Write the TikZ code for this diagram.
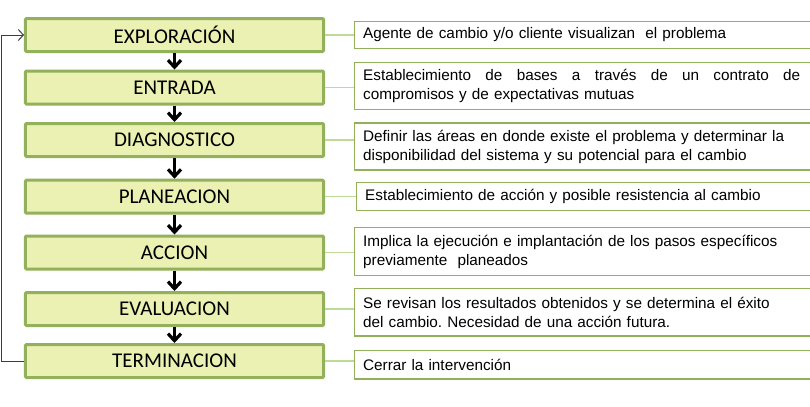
\documentclass[tikz,border=0pt]{standalone}
\usepackage{fontspec}
\setmainfont{Liberation Sans}
\newfontfamily\stepfont{Carlito}
\usetikzlibrary{arrows.meta}
\frenchspacing
\definecolor{stepfill}{RGB}{235,241,178}
\definecolor{stepborder}{RGB}{147,176,90}
\definecolor{linkgreen}{RGB}{188,220,150}
\definecolor{loopgray}{RGB}{60,60,60}
\tikzset{
  stepbox/.style={draw=stepborder, fill=stepfill, line width=3bp, rounded corners=1bp,
    minimum width=298bp, minimum height=33bp, inner sep=0pt,
    font=\stepfont\fontsize{21bp}{24bp}\selectfont},
  descbox/.style={draw=stepborder, line width=1.3bp, anchor=west, align=left,
    text width=440bp, inner xsep=9bp, inner ysep=0pt,
    font=\fontsize{15.3bp}{19bp}\selectfont},
  downarrow/.style={line width=3.2bp, black, -{Straight Barb[length=7bp,width=13bp,line width=3.2bp]}},
  link/.style={draw=linkgreen, line width=1.2bp},
  loop/.style={draw=loopgray, line width=1bp, -{Straight Barb[length=5bp,width=11bp]}}
}
\begin{document}
\begin{tikzpicture}[x=1bp,y=-1bp]
\useasboundingbox (0,0) rectangle (810,406);
\clip (0,0) rectangle (810,406);
\fill[white] (0,0) rectangle (810,406);
% left steps
\node[stepbox] (L1) at (174.5,35) {EXPLORACIÓN};
\node[stepbox] (L2) at (174.5,87.5) {ENTRADA};
\node[stepbox] (L3) at (174.5,140) {DIAGNOSTICO};
\node[stepbox] (L4) at (174.5,196.7) {PLANEACION};
\node[stepbox] (L5) at (174.5,252.5) {ACCION};
\node[stepbox] (L6) at (174.5,309) {EVALUACION};
\node[stepbox] (L7) at (174.5,361) {TERMINACION};
% right descriptions
\node[descbox, minimum height=27.5bp] (R1) at (353.5,35) {Agente de cambio y/o cliente visualizan\ \ el problema};
\node[descbox, minimum height=47.5bp] (R2) at (353.5,86) {\makebox[437bp][l]{Establecimiento\hfill de\hfill bases\hfill a\hfill través\hfill de\hfill un\hfill contrato\hfill de}\\compromisos y de expectativas mutuas};
\node[descbox, minimum height=47bp] (R3) at (353.5,146.5) {Definir las áreas en donde existe el problema y determinar la\\disponibilidad del sistema y su potencial para el cambio};
\node[descbox, minimum height=28bp] (R4) at (355.5,196.7) {Establecimiento de acción y posible resistencia al cambio};
\node[descbox, minimum height=48bp] (R5) at (353.5,251.7) {Implica la ejecución e implantación de los pasos específicos\\previamente\ \ planeados};
\node[descbox, minimum height=47.5bp] (R6) at (353.5,312.3) {Se revisan los resultados obtenidos y se determina el éxito\\del cambio. Necesidad de una acción futura.};
\node[descbox, minimum height=28.5bp] (R7) at (353.5,364.8) {Cerrar la intervención};
% links
\foreach \i in {1,...,7}{
  \draw[link] (L\i.east) -- (L\i.east -| R\i.west);
}
% down arrows
\foreach \i/\j in {1/2,2/3,3/4,4/5,5/6,6/7}{
  \draw[downarrow] (L\i.south) -- (L\j.north);
}
% feedback loop
\draw[loop] (L7.west) -- ++(-22,0) |- (L1.west);
\end{tikzpicture}
\end{document}
